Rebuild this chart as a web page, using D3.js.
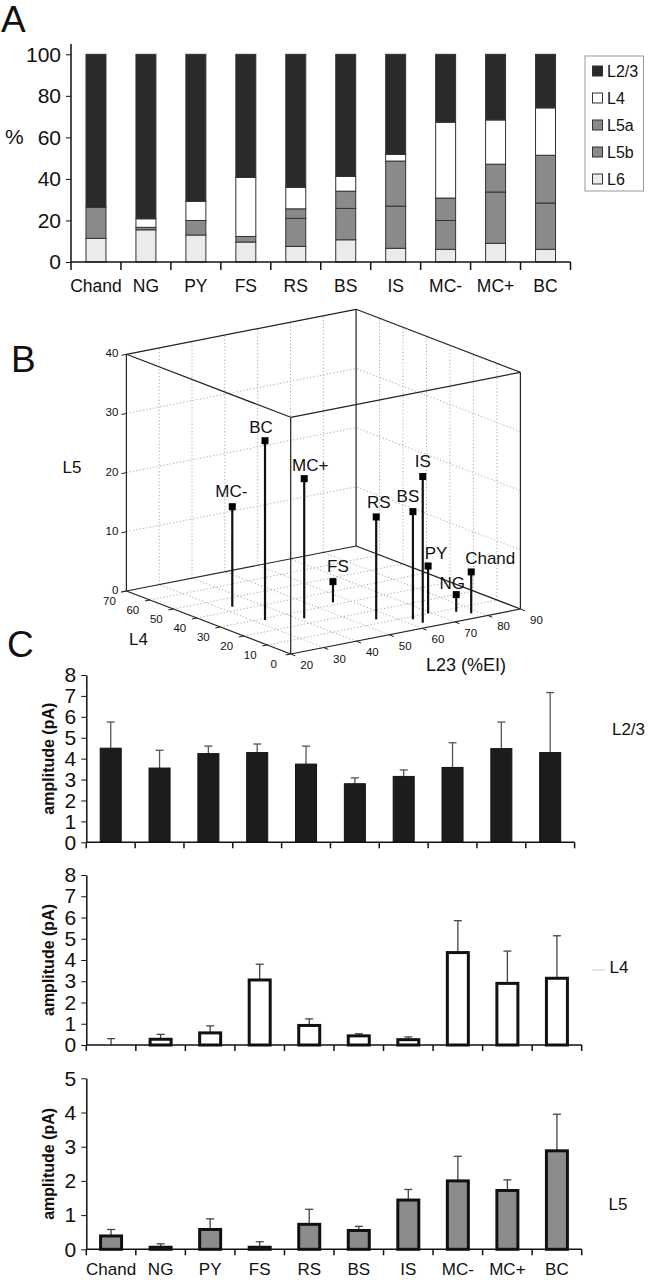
<!DOCTYPE html>
<html><head><meta charset="utf-8">
<script src="https://cdn.jsdelivr.net/npm/d3@7"></script>
<style>
body{margin:0;background:#fff}
text{font-family:"Liberation Sans",Arial,Helvetica,sans-serif;fill:#111}
</style>
</head><body>
<svg id="chart" width="654" height="1284" xmlns="http://www.w3.org/2000/svg"></svg>
<script>
// ---------- DATA ----------
const cats = ["Chand","NG","PY","FS","RS","BS","IS","MC-","MC+","BC"];
// Panel A: % of excitatory input by layer
const pctL6  = [11.4,15.5,13.0, 9.6, 7.5,10.7, 6.6, 6.1, 9.0, 6.1];
const pctL5b = [14.9, 1.2, 7.0, 2.7,13.5,15.1,20.3,13.9,24.7,22.3];
const pctL5a = [ 0.0, 0.0, 0.0, 0.0, 4.6, 8.3,21.7,10.8,13.4,23.0];
const pctL4  = [ 0.0, 4.1, 9.2,28.4,10.3, 7.1, 3.2,36.5,21.3,22.8];
const pctL23 = [73.7,79.2,70.8,59.3,64.1,58.8,48.2,32.7,31.6,25.8];
const layerKeys = ["L6","L5b","L5a","L4","L2/3"];
const legendKeys = ["L2/3","L4","L5a","L5b","L6"];
const pctTicks = [0,20,40,60,80,100];
// Panel B: 3D points
const eiL23 = [77.8,75.6,69.1,55.7,55.5,62.9,63.1,33.1,41.5,32.7];
const eiL4  = [ 3.9, 7.2,10.1,31.9,13.2, 7.9, 4.0,43.2,24.3,28.7];
const eiL5  = [ 7.0, 2.9, 8.0, 3.5,17.3,18.2,24.7,16.9,23.6,30.3];
const l23Ticks = [20,30,40,50,60,70,80,90];
const l4Ticks  = [0,10,20,30,40,50,60,70];
const l5Ticks  = [0,10,20,30,40];
// Panel C: amplitudes (pA) and error (upper SEM)
const ampL23 = [4.50,3.55,4.24,4.29,3.74,2.80,3.15,3.58,4.48,4.29];
const errL23 = [1.25,0.85,0.36,0.41,0.86,0.28,0.31,1.18,1.27,2.87];
const ampL4  = [0.00,0.27,0.57,3.06,0.92,0.43,0.25,4.35,2.90,3.14];
const errL4  = [0.30,0.23,0.33,0.74,0.31,0.10,0.13,1.50,1.52,2.00];
const ampL5  = [0.39,0.06,0.58,0.06,0.73,0.55,1.44,2.00,1.72,2.88];
const errL5  = [0.19,0.10,0.31,0.16,0.44,0.12,0.31,0.72,0.31,1.07];

// ---------- SETUP ----------
const svg = d3.select("#chart");
svg.append("rect").attr("width",654).attr("height",1284).attr("fill","#fff");
const FONT = '"Liberation Sans",Arial,sans-serif';

// Panel letters
[["A",1,32],["B",11,372],["C",7,657]].forEach(([t,x,y])=>{
  svg.append("text").attr("x",x).attr("y",y).attr("font-size",37).text(t);
});

// ---------- PANEL A ----------
(function(){
  const g = svg.append("g");
  const x = d3.scaleBand().domain(cats).range([71,570.5]);
  const y = d3.scaleLinear().domain([0,100]).range([262,54.3]);
  const colors = {"L6":"#ebebeb","L5b":"#8a8a8a","L5a":"#8a8a8a","L4":"#ffffff","L2/3":"#2a2a2a"};
  const rows = cats.map((c,i)=>({cat:c,"L6":pctL6[i],"L5b":pctL5b[i],"L5a":pctL5a[i],"L4":pctL4[i],"L2/3":pctL23[i]}));
  const series = d3.stack().keys(layerKeys)(rows);
  const bw = x.bandwidth()*0.4;
  g.selectAll("g.s").data(series).join("g").attr("fill",d=>colors[d.key])
    .selectAll("rect").data(d=>d.filter(p=>p[1]-p[0]>0)).join("rect")
    .attr("x",d=>x(d.data.cat)+x.bandwidth()/2-bw/2).attr("width",bw)
    .attr("y",d=>y(d[1])).attr("height",d=>y(d[0])-y(d[1]))
    .attr("stroke","#333").attr("stroke-width",1);
  // y axis
  const ya = g.append("g").attr("transform",`translate(${x.range()[0]},0)`)
    .call(d3.axisLeft(y).tickValues(pctTicks).tickSize(5).tickPadding(5).tickSizeOuter(0));
  ya.select(".domain").remove();
  ya.selectAll("text").attr("font-size",21).attr("font-family",FONT).attr("fill","#111");
  ya.selectAll("line").attr("stroke","#111");
  g.append("line").attr("x1",x.range()[0]).attr("x2",x.range()[0]).attr("y1",y(0)).attr("y2",y(105)).attr("stroke","#111").attr("stroke-width",1.5);
  g.append("text").attr("x",5).attr("y",y(60)+7).attr("font-size",21).text("%");
  // x axis
  g.append("line").attr("x1",x.range()[0]).attr("x2",x.range()[1]).attr("y1",y(0)).attr("y2",y(0)).attr("stroke","#111").attr("stroke-width",1.5);
  const edges = cats.map(c=>x(c)).concat([x.range()[1]]);
  g.selectAll("line.xt").data(edges).join("line").attr("class","xt")
    .attr("x1",d=>d).attr("x2",d=>d).attr("y1",y(0)).attr("y2",y(0)+8).attr("stroke","#111").attr("stroke-width",1.5);
  g.selectAll("text.xl").data(cats).join("text").attr("class","xl")
    .attr("x",d=>x(d)+x.bandwidth()/2).attr("y",y(0)+30).attr("text-anchor","middle")
    .attr("font-size",17.5).text(d=>d);
  // legend
  const lg = g.append("g").attr("transform","translate(585,56)");
  lg.append("rect").attr("width",58.5).attr("height",135).attr("fill","#fff").attr("stroke","#999");
  legendKeys.forEach((k,i)=>{
    const yy = 15 + i*27;
    lg.append("rect").attr("x",7.5).attr("y",yy-5).attr("width",10).attr("height",10)
      .attr("fill",colors[k]).attr("stroke","#333");
    lg.append("text").attr("x",22).attr("y",yy+6).attr("font-size",16).text(k);
  });
})();

// ---------- PANEL B ----------
(function(){
  const g = svg.append("g");
  const O = [290.7,654];
  const l23X = d3.scaleLinear().domain([20,90]).range([0,229.7]);
  const l23Y = d3.scaleLinear().domain([20,90]).range([0,-45]);
  const l4X  = d3.scaleLinear().domain([0,70]).range([0,-164.3]);
  const l4Y  = d3.scaleLinear().domain([0,70]).range([0,-63]);
  const zY   = d3.scaleLinear().domain([0,40]).range([0,-236.7]);
  const P = (a,b,c)=>[O[0]+l23X(a)+l4X(b), O[1]+l23Y(a)+l4Y(b)+zY(c)];
  const line = (p,q,st)=>g.append("line").attr("x1",p[0]).attr("y1",p[1]).attr("x2",q[0]).attr("y2",q[1]).attr("stroke",st.c||"#111").attr("stroke-width",st.w||1).attr("stroke-dasharray",st.d||null);
  const grid = {c:"#aaa",w:1,d:"1.2,2.2"};
  // grid: back wall L4=70
  [30,40,50,60,70,80].forEach(a=>line(P(a,70,0),P(a,70,40),grid));
  [10,20,30].forEach(z=>line(P(20,70,z),P(90,70,z),grid));
  // back wall L23=90
  [10,20,30,40,50,60].forEach(b=>line(P(90,b,0),P(90,b,40),grid));
  [10,20,30].forEach(z=>line(P(90,0,z),P(90,70,z),grid));
  // floor
  [30,40,50,60,70,80].forEach(a=>line(P(a,0,0),P(a,70,0),grid));
  [10,20,30,40,50,60].forEach(b=>line(P(20,b,0),P(90,b,0),grid));
  // box edges
  const box = {c:"#222",w:1.2};
  const corners = [[20,0],[90,0],[90,70],[20,70]];
  corners.forEach((c,i)=>{
    const n = corners[(i+1)%4];
    line(P(c[0],c[1],0),P(n[0],n[1],0),box);
    line(P(c[0],c[1],40),P(n[0],n[1],40),box);
    line(P(c[0],c[1],0),P(c[0],c[1],40),box);
  });
  // z ticks
  l5Ticks.forEach(z=>{
    const p = P(20,70,z);
    line(p,[p[0]-5,p[1]+1],{c:"#222",w:1});
    g.append("text").attr("x",p[0]-8).attr("y",p[1]+3).attr("text-anchor","end").attr("font-size",11.5).text(z);
  });
  // L4 ticks (along front-left edge)
  l4Ticks.forEach(b=>{
    const p = P(20,b,0), q = P(18.5,b,0);
    line(p,q,{c:"#222",w:1});
    g.append("text").attr("x",p[0]-17).attr("y",p[1]+14).attr("text-anchor","middle").attr("font-size",11.5).text(b);
  });
  // L23 ticks (along front-right edge)
  l23Ticks.forEach(a=>{
    const p = P(a,0,0), q = P(a,-2,0);
    line(p,q,{c:"#222",w:1});
    g.append("text").attr("x",p[0]+16).attr("y",p[1]+15).attr("text-anchor","middle").attr("font-size",11.5).text(a);
  });
  g.append("text").attr("x",72).attr("y",473).attr("text-anchor","middle").attr("font-size",17).text("L5");
  g.append("text").attr("x",138.5).attr("y",645).attr("text-anchor","middle").attr("font-size",17).text("L4");
  g.append("text").attr("x",466).attr("y",671).attr("text-anchor","middle").attr("font-size",18).text("L23 (%EI)");
  // stems
  const labelNudge = {"BC":[-4,-14],"MC+":[6,-14],"MC-":[-1,-16],"RS":[2.5,-15],"BS":[-5,-16],"IS":[0,-16],"PY":[8,-13],"Chand":[19,-14],"NG":[-4,-12],"FS":[5,-16]};
  const pts = cats.map((c,i)=>({c,a:eiL23[i],b:eiL4[i],z:eiL5[i]}));
  pts.forEach(d=>{
    const base = P(d.a,d.b,0), top = P(d.a,d.b,d.z);
    line(base,top,{c:"#111",w:2.2});
    g.append("rect").attr("x",top[0]-3.5).attr("y",top[1]-3.5).attr("width",7).attr("height",7).attr("fill","#000");
    const n = labelNudge[d.c];
    g.append("text").attr("x",top[0]+n[0]).attr("y",top[1]+n[1]+6).attr("text-anchor","middle").attr("font-size",17).text(d.c);
  });
})();

// ---------- PANEL C ----------
function barPanel(cfg){
  const g = svg.append("g");
  const x = d3.scaleBand().domain(cats).range([86.3,cfg.xEnd]);
  const y = d3.scaleLinear().domain([0,cfg.max]).range([cfg.y0,cfg.yTop]);
  const bw = 21;
  const data = cats.map((c,i)=>({c,v:cfg.vals[i],e:cfg.errs[i]}));
  // error bars
  data.forEach(d=>{
    const cx = x(d.c)+x.bandwidth()/2;
    g.append("line").attr("x1",cx).attr("x2",cx).attr("y1",y(d.v)).attr("y2",y(d.v+d.e)).attr("stroke",cfg.errColor).attr("stroke-width",1.3);
    g.append("line").attr("x1",cx-4).attr("x2",cx+4).attr("y1",y(d.v+d.e)).attr("y2",y(d.v+d.e)).attr("stroke",cfg.errColor).attr("stroke-width",1.3);
  });
  g.selectAll("rect.b").data(data.filter(d=>d.v>0)).join("rect").attr("class","b")
    .attr("x",d=>x(d.c)+x.bandwidth()/2-bw/2).attr("width",bw)
    .attr("y",d=>y(d.v)).attr("height",d=>y(0)-y(d.v))
    .attr("fill",cfg.fill).attr("stroke","#111").attr("stroke-width",cfg.sw);
  const ya = g.append("g").attr("transform",`translate(86.3,0)`)
    .call(d3.axisLeft(y).tickValues(d3.range(0,cfg.max+1)).tickFormat(d3.format("d")).tickSize(5).tickPadding(5).tickSizeOuter(0));
  ya.select(".domain").attr("stroke","#111").attr("stroke-width",1.5);
  ya.selectAll("line").attr("stroke","#111");
  ya.selectAll("text").attr("font-size",21).attr("font-family",FONT).attr("fill","#111");
  g.append("line").attr("x1",86.3).attr("x2",cfg.xEnd).attr("y1",y(0)).attr("y2",y(0)).attr("stroke","#111").attr("stroke-width",1.5);
  const edges = cats.map(c=>x(c)).concat([cfg.xEnd]);
  g.selectAll("line.xt").data(edges).join("line").attr("class","xt")
    .attr("x1",d=>d).attr("x2",d=>d).attr("y1",y(0)).attr("y2",y(0)+6).attr("stroke","#111").attr("stroke-width",1.5);
  g.append("text").attr("transform",`translate(54,${(cfg.y0+cfg.yTop)/2}) rotate(-90)`)
    .attr("text-anchor","middle").attr("font-size",16).attr("font-weight","bold").text("amplitude (pA)");
  g.append("text").attr("x",cfg.labX).attr("y",cfg.labY+6).attr("text-anchor","middle").attr("font-size",17).text(cfg.label);
  if(cfg.showCats){
    g.selectAll("text.xl").data(cats).join("text").attr("class","xl")
      .attr("x",d=>x(d)+x.bandwidth()/2).attr("y",y(0)+26).attr("text-anchor","middle")
      .attr("font-size",17).text(d=>d);
  }
  return g;
}
barPanel({vals:ampL23,errs:errL23,max:8,y0:842.3,yTop:675,xEnd:574.6,fill:"#1c1c1c",sw:1,errColor:"#555",label:"L2/3",labX:628.5,labY:729,showCats:false});
const g4 = barPanel({vals:ampL4,errs:errL4,max:8,y0:1045,yTop:875,xEnd:581.7,fill:"#ffffff",sw:3,errColor:"#444",label:"L4",labX:619,labY:967,showCats:false});
g4.append("line").attr("x1",592).attr("x2",605).attr("y1",970).attr("y2",970).attr("stroke","#ccc");
barPanel({vals:ampL5,errs:errL5,max:5,y0:1249.3,yTop:1078.3,xEnd:581.7,fill:"#8c8c8c",sw:3,errColor:"#444",label:"L5",labX:618,labY:1204,showCats:true});
</script>
</body></html>
